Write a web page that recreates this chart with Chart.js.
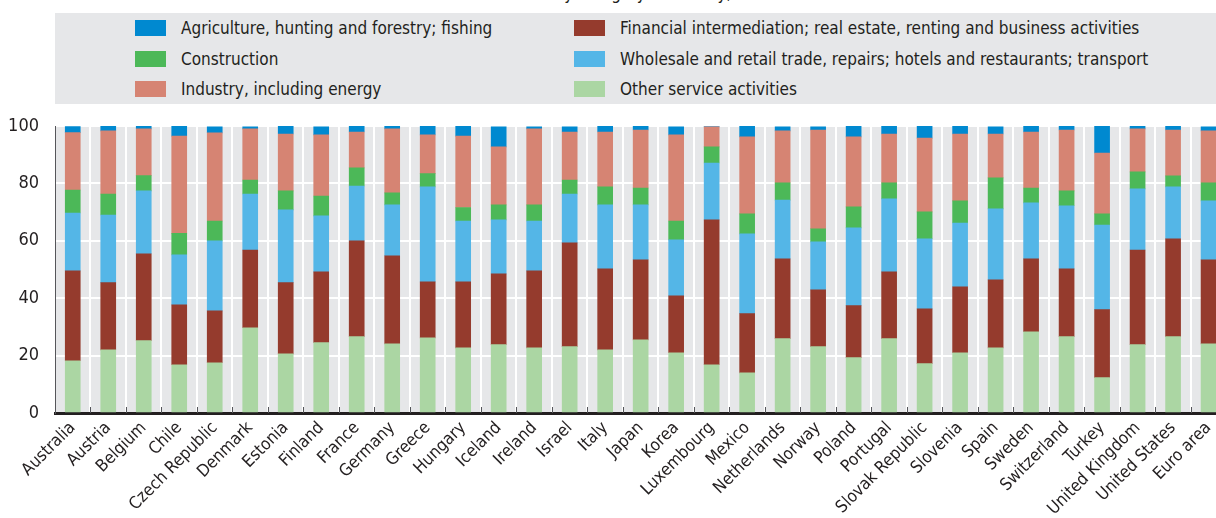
<!DOCTYPE html>
<html>
<head>
<meta charset="utf-8">
<script src="https://cdn.jsdelivr.net/npm/chart.js@4.4.1/dist/chart.umd.min.js"></script>
<style>
  html, body { margin: 0; padding: 0; overflow: hidden; background: #fff; width: 1216px; height: 518px; }
  #wrap { position: absolute; left: 0; top: 0; width: 1228px; height: 518px; }
  #title { position: absolute; left: 455px; top: -17px; font: 17px 'Liberation Sans Narrow', 'Arial Narrow', 'DejaVu Sans Condensed', sans-serif; line-height: 20px; color: #231f20; white-space: nowrap; }
  #legend { position: absolute; left: 55px; top: 13px; width: 1161px; height: 91px; background: #e6e7e9; }
  .item { position: absolute; height: 16px; }
  .sw { position: absolute; left: 0; top: 0; width: 31px; height: 16px; }
  .lbl { position: absolute; left: 46px; top: -4px; font-family: 'Liberation Sans Narrow', 'Arial Narrow', 'DejaVu Sans Condensed', sans-serif; font-size: 17px; line-height: 24px; color: #231f20; white-space: nowrap; }
</style>
</head>
<body>
<div id="title">Value added by category of activity, 2010</div>
<div id="legend"></div>
<div id="wrap"><canvas id="chart"></canvas></div>
<script>
// categories
const countries = ['Australia', 'Austria', 'Belgium', 'Chile', 'Czech Republic', 'Denmark', 'Estonia', 'Finland',
  'France', 'Germany', 'Greece', 'Hungary', 'Iceland', 'Ireland', 'Israel', 'Italy', 'Japan', 'Korea',
  'Luxembourg', 'Mexico', 'Netherlands', 'Norway', 'Poland', 'Portugal', 'Slovak Republic', 'Slovenia',
  'Spain', 'Sweden', 'Switzerland', 'Turkey', 'United Kingdom', 'United States', 'Euro area'];

// shares, % of total (bottom of the stack first)
const otherServices = [18.2, 22.0, 25.2, 16.8, 17.5, 29.7, 20.6, 24.5, 26.6, 24.1, 26.2, 22.7, 23.8, 22.7, 23.1, 22.0, 25.5, 21.0,
  16.8, 14.0, 25.9, 23.1, 19.3, 25.9, 17.2, 21.0, 22.7, 28.3, 26.6, 12.3, 23.8, 26.6, 24.1];
const financial = [31.3, 23.4, 30.3, 20.9, 18.1, 27.1, 24.8, 24.7, 33.4, 30.7, 19.5, 23.0, 24.7, 26.8, 36.2, 28.2, 27.9, 19.8,
  50.5, 20.6, 27.8, 19.8, 18.1, 23.3, 19.1, 23.0, 23.7, 25.4, 23.6, 23.7, 33.0, 34.1, 29.3];
const wholesale = [20.2, 23.6, 21.9, 17.4, 24.4, 19.5, 25.4, 19.5, 19.1, 17.7, 33.1, 21.2, 18.8, 17.4, 17.0, 22.3, 19.1, 19.5,
  19.8, 27.8, 20.5, 16.7, 27.1, 25.4, 24.4, 22.2, 24.7, 19.5, 22.0, 29.5, 21.3, 18.1, 20.5];
const construction = [8.0, 7.3, 5.3, 7.5, 6.9, 4.9, 6.6, 6.9, 6.3, 4.2, 4.6, 4.7, 5.2, 5.6, 4.9, 6.3, 5.9, 6.6,
  5.6, 7.0, 6.0, 4.6, 7.3, 5.6, 9.4, 7.7, 10.8, 5.2, 5.2, 3.9, 5.9, 3.8, 6.3];
const industry = [20.0, 22.0, 16.3, 33.9, 30.7, 17.8, 19.8, 21.3, 12.5, 22.3, 13.5, 24.9, 20.2, 26.5, 16.7, 19.1, 20.2, 30.0,
  7.0, 26.8, 18.1, 34.4, 24.4, 17.0, 25.7, 23.3, 15.3, 19.5, 21.2, 21.2, 15.0, 16.0, 18.1];
const agriculture = [2.1, 1.7, 1.0, 3.5, 2.1, 0.7, 2.8, 2.8, 2.1, 1.0, 3.1, 3.5, 7.0, 0.7, 1.8, 2.1, 1.4, 2.8,
  0.1, 3.8, 1.4, 1.1, 3.8, 2.8, 4.2, 2.8, 2.5, 2.1, 1.4, 9.4, 1.0, 1.4, 1.4];

const yTicks = [0, 20, 40, 60, 80, 100];

const FONT = "'Liberation Sans Narrow', 'Arial Narrow', 'DejaVu Sans Condensed', sans-serif";
const INK = '#231f20';

const series = [
  { label: 'Other service activities', data: otherServices, color: '#abd6a3' },
  { label: 'Financial intermediation; real estate, renting and business activities', data: financial, color: '#953b2d' },
  { label: 'Wholesale and retail trade, repairs; hotels and restaurants; transport', data: wholesale, color: '#54b6e7' },
  { label: 'Construction', data: construction, color: '#4cb858' },
  { label: 'Industry, including energy', data: industry, color: '#d68473' },
  { label: 'Agriculture, hunting and forestry; fishing', data: agriculture, color: '#0089d0' },
];

// legend: two columns of three
const legendOrder = [5, 3, 4, 1, 2, 0];
const legendBox = document.getElementById('legend');
legendOrder.forEach((idx, i) => {
  const s = series[idx];
  const col = Math.floor(i / 3), row = i % 3;
  const item = document.createElement('div');
  item.className = 'item';
  item.style.left = (col === 0 ? 80 : 519) + 'px';
  item.style.top = (7 + row * 30.5) + 'px';
  item.innerHTML = '<div class="sw" style="background:' + s.color + '"></div><div class="lbl">' + s.label + '</div>';
  legendBox.appendChild(item);
});

const plotBackground = {
  id: 'plotBackground',
  beforeDraw(chart) {
    const a = chart.chartArea, ctx = chart.ctx;
    ctx.save();
    ctx.fillStyle = '#e6e7e9';
    ctx.fillRect(a.left, a.top, a.right - a.left, a.bottom - a.top);
    ctx.restore();
  },
  afterDraw(chart) {
    // short inner tick marks between categories
    const x = chart.scales.x, a = chart.chartArea, ctx = chart.ctx;
    ctx.save();
    ctx.strokeStyle = '#55565a';
    ctx.lineWidth = 1;
    for (let i = 1; i < countries.length; i++) {
      const px = Math.round((x.getPixelForValue(i - 1) + x.getPixelForValue(i)) / 2) + 0.5;
      ctx.beginPath();
      ctx.moveTo(px, a.bottom);
      ctx.lineTo(px, a.bottom - 6);
      ctx.stroke();
    }
    ctx.restore();
  }
};

Chart.defaults.font.family = FONT;
Chart.defaults.color = INK;

new Chart(document.getElementById('chart'), {
  type: 'bar',
  data: {
    labels: countries,
    datasets: series.map(s => ({
      label: s.label,
      data: s.data,
      backgroundColor: s.color,
      borderWidth: 0,
      barThickness: 15,
    })),
  },
  options: {
    responsive: true,
    maintainAspectRatio: false,
    animation: false,
    layout: { padding: { top: 126, left: 0, right: 0, bottom: 0 } },
    plugins: {
      legend: { display: false },
      tooltip: { enabled: false },
    },
    scales: {
      x: {
        stacked: true,
        grid: { color: '#ffffff', lineWidth: 2, drawTicks: false, offset: true },
        border: { display: true, color: INK, width: 3 },
        ticks: { autoSkip: false, maxRotation: 45, minRotation: 45, padding: 5, font: { size: 17 }, color: INK },
        afterFit(scale) { scale.height = 105; },
      },
      y: {
        stacked: true,
        min: 0,
        max: 100,
        afterBuildTicks(scale) { scale.ticks = yTicks.map(v => ({ value: v })); },
        grid: { color: ctx => (ctx.tick && ctx.tick.value === 0 ? 'rgba(0,0,0,0)' : '#ffffff'), lineWidth: 2, drawTicks: false },
        border: { display: true, color: '#55565a', width: 1 },
        ticks: { padding: 16, font: { size: 18 }, color: INK },
        afterFit(scale) { scale.width = 55; },
      },
    },
  },
  plugins: [plotBackground],
});
</script>
</body>
</html>
